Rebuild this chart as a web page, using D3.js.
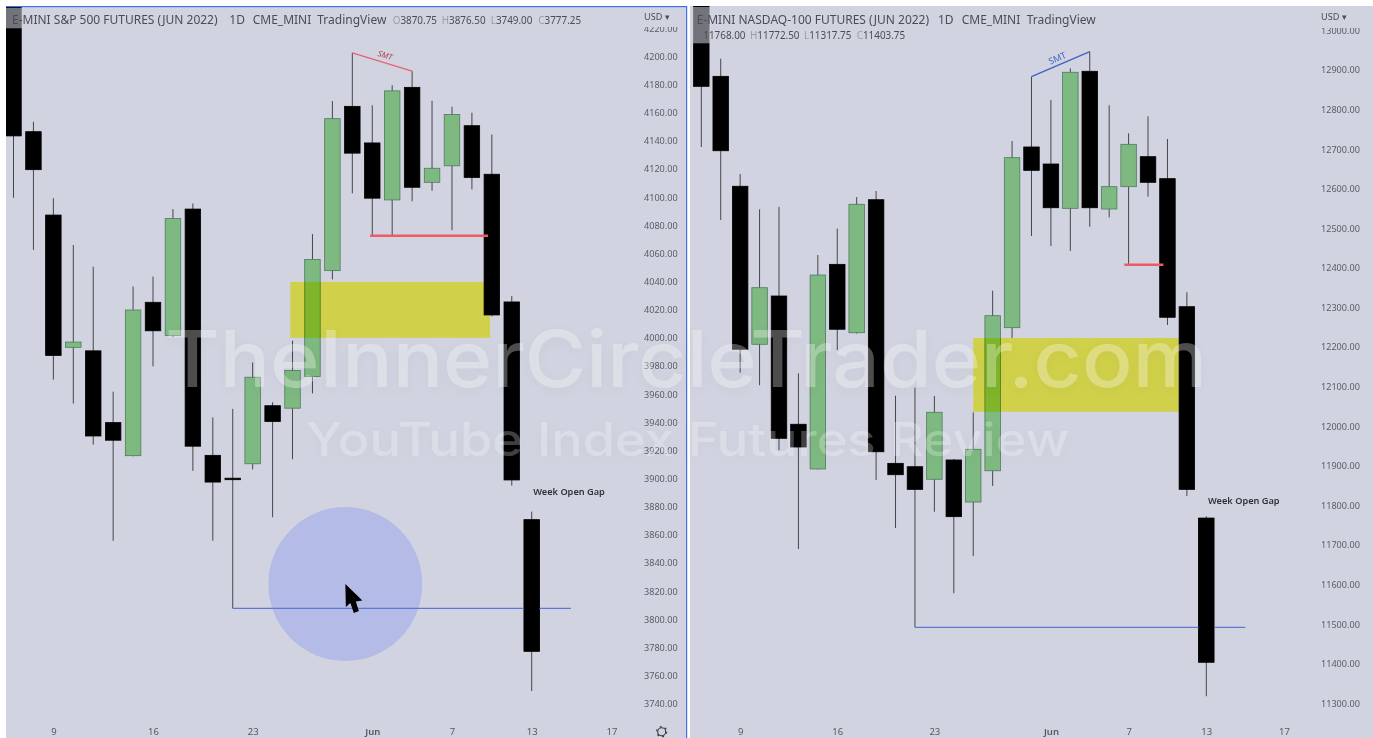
<!DOCTYPE html>
<html>
<head>
<meta charset="utf-8">
<title>Index futures review</title>
<script src="https://cdn.jsdelivr.net/npm/d3@7"></script>
<style>
  html, body { margin: 0; padding: 0; background: #fff; overflow: hidden; }
  svg { display: block; filter: blur(0.35px); }
  text { font-family: "Noto Sans", sans-serif; }
  .watermark { font-family: Inter, sans-serif; font-weight: 500;
               filter: drop-shadow(0 3px 6px rgba(0,0,0,0.1)); }
</style>
</head>
<body>
<div id="chart"></div>
<script>
// Trading sessions, May 5 to Jun 17 2022 (Memorial Day missing)
const sessions = ["May 5","May 6","May 9","May 10","May 11","May 12","May 13","May 16","May 17","May 18",
  "May 19","May 20","May 23","May 24","May 25","May 26","May 27","May 31","Jun 1","Jun 2","Jun 3","Jun 6",
  "Jun 7","Jun 8","Jun 9","Jun 10","Jun 13","Jun 14","Jun 15","Jun 16","Jun 17"];
const dateTickIndex = [2, 7, 12, 18, 22, 26, 30];
const dateTickLabels = ["9", "16", "23", "Jun", "7", "13", "17"];

// E-mini S&P 500
const spOpen = [4260,4146.5,4087.25,3993.25,3990.75,3939.75,3916.25,4025.25,4001.75,4091.5,3916.5,3900.25,3910.5,3951.75,3950,3972.5,4047.75,4164.5,4138.5,4098,4178,4110.5,4122.25,4150.75,4116.25,4025.5,3870.75];
const spHigh = [4275,4153.5,4099.25,4066,4050.5,3961.75,4036.5,4043.5,4091.5,4095.5,3943.5,3949.5,3982.5,3954.25,3998,4073.75,4168.25,4202.5,4165.25,4179.5,4189.5,4168.5,4164.25,4160,4144.5,4029.75,3876.5];
const spLow = [4099.5,4062.5,3970.25,3953.25,3924,3855.75,3915.75,3979.75,4000.5,3905.5,3855.75,3807.75,3906.5,3872.5,3913.75,3960.5,4041.5,4102.75,4072.5,4072.5,4097,4104.5,4076.5,4105.5,4015.25,3895,3749];
const spClose = [4143.5,4119.5,3987.5,3997,3930.25,3927.25,4019.75,4005,4084.75,3923,3897.5,3899.5,3972,3940.5,3976.75,4055.75,4155.75,4131.25,4099.25,4175.5,4107,4120.5,4158.75,4114,4016.25,3899,3777.25];
const spTicks = d3.range(3740, 4221, 20);

// E-mini Nasdaq-100
const nqOpen = [13150,12884,12606.25,12207,12329,12005,11892,12409,12236.25,12572.25,11906.25,11897.75,11866,11914.75,11808.5,11887.5,12249,12705.5,12662.5,12550.5,12896.75,12548.75,12605.25,12681,12625.5,12302,11768];
const nqHigh = [13200,12928.5,12637.25,12548,12554.5,12133.75,12432.5,12499,12579,12594.25,12077,12097.25,12076.5,11917.25,12035.25,12342.5,12720.5,12883,12824.25,12904.25,12946.25,12810.75,12740,12783,12725.75,12338.5,11772.5];
const nqLow = [12705.5,12521,12135.25,12103.5,11939.25,11689.75,11890.75,12192.5,12234,11864,11742.75,11492,11784,11578,11672,11849,12223,12480.5,12455.25,12442.75,12504,12527.75,12410,12580,12255.75,11823.75,11317.75];
const nqClose = [12858.75,12696,12194.5,12350,11969.5,11947.5,12382,12245,12560.75,11935.5,11877.5,11840.5,12035.25,11771.5,11941.75,12279.25,12678.5,12646.5,12552,12894.25,12552,12605.25,12712.25,12616.25,12275.25,11840.5,11403.75];
const nqTicks = d3.range(11300, 13001, 100);

const width = 1373, height = 738;
const bg = "#d1d4e0";

const svg = d3.select("#chart").append("svg")
  .attr("width", width)
  .attr("height", height)
  .attr("viewBox", `0 0 ${width} ${height}`);

const defs = svg.append("defs");

drawPanel({
  id: "sp",
  area: [6, 7, 681, 731],
  xRange: [13.5, 531.7],
  yDomain: [4200, 3740], yRange: [56.4, 703.7],
  open: spOpen, high: spHigh, low: spLow, close: spClose, ticks: spTicks,
  axisX: 644, clipTop: 27,
  gap: { x0: 13.89, x1: 23.91, top: 4039.75, bottom: 4000 },
  redLine: { x0: 17.89, x1: 23.81, price: 4072.5 },
  blueLine: { x0: 11, x1: 27.97, price: 3807.75 },
  smt: { a: 17, b: 20, color: "#ea6070", textColor: "#b23a4e", size: 8, style: "italic", dx: 2, dy: -4 },
  weekGap: { x: 26.08, price: 3890.5 },
  title: [["E-MINI S&P 500 FUTURES (JUN 2022)", 12], ["1D", 229.3], ["CME_MINI", 252.7], ["TradingView", 317.3]],
  ohlc: [["O", "3870.75", 392.7], ["H", "3876.50", 441.7], ["L", "3749.00", 490.7], ["C", "3777.25", 538.3]],
  ohlcY: 24,
  legendBox: [6, 8, 580, 20.3]
});

drawPanel({
  id: "nq",
  area: [690, 6, 683, 732],
  xRange: [701.3, 1206.3],
  yDomain: [12900, 11300], yRange: [70, 703.3],
  open: nqOpen, high: nqHigh, low: nqLow, close: nqClose, ticks: nqTicks,
  axisX: 1321, clipTop: 28,
  gap: { x0: 14, x1: 24.6, top: 12223, bottom: 12036.75 },
  redLine: { x0: 21.78, x1: 23.79, price: 12408 },
  blueLine: { x0: 11, x1: 28.01, price: 11492 },
  smt: { a: 17, b: 20, color: "#3f62c8", textColor: "#4468c8", size: 9, style: "normal", dx: -2, dy: -3 },
  weekGap: { x: 26.09, price: 11812 },
  title: [["E-MINI NASDAQ-100 FUTURES (JUN 2022)", 696.7], ["1D", 938], ["CME_MINI", 961.7], ["TradingView", 1026.7]],
  ohlc: [["", "11768.00", 703.3], ["H", "11772.50", 750], ["L", "11317.75", 804], ["C", "11403.75", 856.7]],
  ohlcY: 39,
  legendBox: [690, 7, 410, 36.3]
});

// panel frame of the active chart
svg.append("rect").attr("x", 6).attr("y", 6).attr("width", 681).attr("height", 1.2).attr("fill", "#3f6fe2");
svg.append("rect").attr("x", 686).attr("y", 6).attr("width", 1.2).attr("height", 732).attr("fill", "#3f6fe2");

// settings gear
const gear = svg.append("g").attr("transform", "translate(661.7,731.7)");
gear.append("circle").attr("r", 4).attr("fill", "none").attr("stroke", "#3a3c42").attr("stroke-width", 1.1);
gear.append("circle").attr("r", 5).attr("fill", "none").attr("stroke", "#3a3c42").attr("stroke-width", 1.2)
  .attr("stroke-dasharray", "2 3.24");

// watermark over both charts
svg.append("text").attr("class", "watermark")
  .attr("x", 165).attr("y", 387).attr("font-size", 78)
  .attr("fill", "rgba(255,255,255,0.3)")
  .attr("textLength", 1042).attr("lengthAdjust", "spacingAndGlyphs")
  .text("TheInnerCircleTrader.com");
svg.append("text").attr("class", "watermark")
  .attr("x", 306).attr("y", 456).attr("font-size", 46)
  .attr("fill", "rgba(255,255,255,0.25)")
  .attr("textLength", 763).attr("lengthAdjust", "spacingAndGlyphs")
  .text("YouTube Index Futures Review");

function drawPanel(cfg) {
  const [ax, ay, aw, ah] = cfg.area;
  const x = d3.scaleLinear().domain([0, 26]).range(cfg.xRange);
  const y = d3.scaleLinear().domain(cfg.yDomain).range(cfg.yRange);
  const bodyW = 15.5;

  const candles = cfg.open.map((o, i) => ({
    i, date: sessions[i], o, h: cfg.high[i], l: cfg.low[i], c: cfg.close[i]
  }));

  defs.append("clipPath").attr("id", "clip-" + cfg.id)
    .append("rect").attr("x", ax).attr("y", ay).attr("width", aw).attr("height", ah);
  defs.append("clipPath").attr("id", "axis-" + cfg.id)
    .append("rect").attr("x", ax).attr("y", cfg.clipTop).attr("width", aw).attr("height", ah);

  const g = svg.append("g").attr("clip-path", `url(#clip-${cfg.id})`);

  // background has to be in this group or the multiply blend can't see it
  g.append("rect").attr("x", ax).attr("y", ay).attr("width", aw).attr("height", ah).attr("fill", bg);

  // wicks
  g.selectAll(".wick").data(candles).enter().append("line")
    .attr("class", "wick")
    .attr("x1", d => x(d.i)).attr("x2", d => x(d.i))
    .attr("y1", d => y(d.h)).attr("y2", d => y(d.l))
    .attr("stroke", "#45464a").attr("stroke-width", 1);

  // bodies
  g.selectAll(".body").data(candles).enter().append("rect")
    .attr("class", "body")
    .attr("x", d => x(d.i) - bodyW / 2)
    .attr("width", bodyW)
    .attr("y", d => y(Math.max(d.o, d.c)))
    .attr("height", d => Math.max(1.5, Math.abs(y(d.o) - y(d.c))))
    .attr("fill", d => d.c >= d.o ? "#7eb981" : "#000")
    .attr("stroke", d => d.c >= d.o ? "#4f7a5c" : "#000")
    .attr("stroke-width", 0.8);

  // yellow gap box, darkens whatever lies below it
  g.append("rect")
    .attr("x", x(cfg.gap.x0)).attr("width", x(cfg.gap.x1) - x(cfg.gap.x0))
    .attr("y", y(cfg.gap.top)).attr("height", y(cfg.gap.bottom) - y(cfg.gap.top))
    .attr("fill", "#fffa54")
    .style("mix-blend-mode", "multiply");

  // cursor highlight sits under the blue line on the left chart
  if (cfg.id === "sp") {
    g.append("circle")
      .attr("cx", x(16.65)).attr("cy", y(3825)).attr("r", 77)
      .attr("fill", "#b3bbe6");
  }

  g.append("line")
    .attr("x1", x(cfg.blueLine.x0)).attr("x2", x(cfg.blueLine.x1))
    .attr("y1", y(cfg.blueLine.price)).attr("y2", y(cfg.blueLine.price))
    .attr("stroke", "#5f78d4").attr("stroke-width", 1.2);

  // last candle stays over the blue line
  const last = candles[candles.length - 1];
  g.append("rect")
    .attr("x", x(last.i) - bodyW / 2).attr("width", bodyW)
    .attr("y", y(last.o)).attr("height", y(last.c) - y(last.o))
    .attr("fill", "#000");

  g.append("line")
    .attr("x1", x(cfg.redLine.x0)).attr("x2", x(cfg.redLine.x1))
    .attr("y1", y(cfg.redLine.price)).attr("y2", y(cfg.redLine.price))
    .attr("stroke", "#ef5a66").attr("stroke-width", 2.5);

  // SMT divergence line between two highs
  const sa = candles[cfg.smt.a], sb = candles[cfg.smt.b];
  const x1 = x(sa.i), y1 = y(sa.h), x2 = x(sb.i), y2 = y(sb.h);
  g.append("line")
    .attr("x1", x1).attr("y1", y1).attr("x2", x2).attr("y2", y2)
    .attr("stroke", cfg.smt.color).attr("stroke-width", 1.4);
  const angle = Math.atan2(y2 - y1, x2 - x1) * 180 / Math.PI;
  g.append("text")
    .attr("transform", `translate(${(x1 + x2) / 2 + cfg.smt.dx},${(y1 + y2) / 2 + cfg.smt.dy}) rotate(${angle})`)
    .attr("text-anchor", "middle")
    .attr("font-size", cfg.smt.size)
    .attr("font-style", cfg.smt.style)
    .attr("fill", cfg.smt.textColor)
    .text("SMT");

  g.append("text")
    .attr("x", x(cfg.weekGap.x)).attr("y", y(cfg.weekGap.price))
    .attr("dy", ".35em")
    .attr("font-size", 9.2).attr("font-weight", 600).attr("fill", "#2f3136")
    .text("Week Open Gap");

  if (cfg.id === "sp") {
    g.append("path")
      .attr("transform", `translate(${x(16.65)},${y(3825)})`)
      .attr("d", "M0,0 L17,16.5 L10.5,17.5 L13.5,27 L8.5,29 L5,19 L0.5,23 Z")
      .attr("fill", "#000");
  }

  // translucent legend backing, greys the candle under it
  svg.append("rect")
    .attr("x", cfg.legendBox[0]).attr("y", cfg.legendBox[1])
    .attr("width", cfg.legendBox[2]).attr("height", cfg.legendBox[3])
    .attr("fill", bg).attr("opacity", 0.55);

  // header text
  const head = svg.append("g").attr("fill", "#4a4d55").attr("font-size", 12);
  head.selectAll("text").data(cfg.title).enter().append("text")
    .attr("x", d => d[1]).attr("y", 23.7)
    .text(d => d[0]);

  const ohlc = svg.append("g").attr("font-size", 9.9);
  const row = ohlc.selectAll("text").data(cfg.ohlc).enter().append("text")
    .attr("x", d => d[2]).attr("y", cfg.ohlcY);
  row.append("tspan").attr("fill", "#9a9da6").text(d => d[0]);
  row.append("tspan").attr("fill", "#4a4d55").text(d => d[1]);

  // price axis
  const yAxis = d3.axisRight(y)
    .tickValues(cfg.ticks)
    .tickFormat(d3.format(".2f"))
    .tickSize(0).tickPadding(0);
  const yg = svg.append("g")
    .attr("clip-path", `url(#axis-${cfg.id})`)
    .append("g")
    .attr("transform", `translate(${cfg.axisX},0)`)
    .call(yAxis);
  yg.select(".domain").remove();
  yg.selectAll("text").attr("font-size", 9.1).attr("font-family", '"Noto Sans", sans-serif').attr("fill", "#5a5d66");

  svg.append("text")
    .attr("x", cfg.axisX).attr("y", 19.5)
    .attr("font-size", 9.1).attr("fill", "#4a4d55")
    .text("USD ▾");

  // date axis
  const xAxis = d3.axisBottom(x)
    .tickValues(dateTickIndex)
    .tickFormat(i => dateTickLabels[dateTickIndex.indexOf(i)])
    .tickSize(0).tickPadding(0);
  const xg = svg.append("g")
    .attr("transform", "translate(0,728)")
    .call(xAxis);
  xg.select(".domain").remove();
  xg.selectAll("text")
    .attr("font-size", 9.5).attr("font-family", '"Noto Sans", sans-serif')
    .attr("fill", "#55585f")
    .attr("font-weight", (d, i) => dateTickLabels[i] === "Jun" ? 600 : 400);
}
</script>
</body>
</html>
